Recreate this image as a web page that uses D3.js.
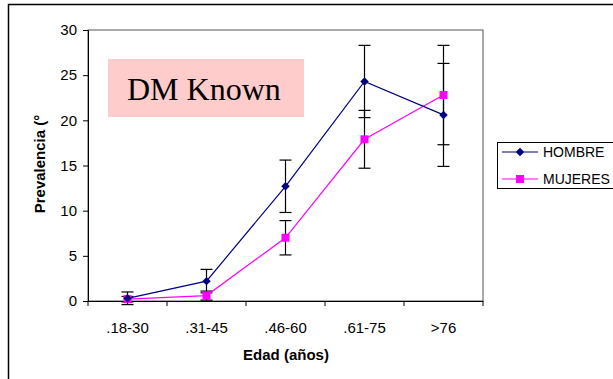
<!DOCTYPE html>
<html><head><meta charset="utf-8">
<script src="https://cdn.jsdelivr.net/npm/d3@7"></script>
<style>body{margin:0;background:#fff}svg{display:block}</style>
</head><body>
<svg id="c" width="613" height="379"></svg>
<script>
const categories = [".18-30", ".31-45", ".46-60", ".61-75", ">76"];
const hombre = [0.3, 2.2, 12.7, 24.3, 20.6];
const hombreErr = [0.7, 1.3, 2.9, 4.0, 5.7];
const mujeres = [0.2, 0.6, 7.0, 17.9, 22.8];
const mujeresErr = [0.3, 0.5, 1.9, 3.2, 5.5];
const yTicks = [0, 5, 10, 15, 20, 25, 30];
const seriesNames = ["HOMBRE", "MUJERES"];

const svg = d3.select("#c");
const font = "'Liberation Sans', Arial, sans-serif";
const L = 88, R = 483, T = 30, B = 301;

// outer border
svg.append("rect").attr("x", 8.5).attr("y", 4.5).attr("width", 640).attr("height", 400)
  .attr("fill", "none").attr("stroke", "#000").attr("stroke-width", 1.5);

const x = d3.scaleBand().domain(categories).range([L, R]);
const y = d3.scaleLinear().domain([0, 30]).range([B, T]);

// plot frame
svg.append("rect").attr("x", L).attr("y", T).attr("width", R - L).attr("height", B - T)
  .attr("fill", "none").attr("stroke", "#555").attr("stroke-width", 1);

// y axis
const ya = svg.append("g").attr("transform", `translate(${L},0)`)
  .call(d3.axisLeft(y).tickValues(yTicks).tickSize(5).tickPadding(6));
ya.select(".domain").attr("stroke", "#000");
ya.selectAll("text").attr("font-family", font).attr("font-size", 15).attr("fill", "#000");

// x axis
const xa = svg.append("g").attr("transform", `translate(0,${B})`)
  .call(d3.axisBottom(x).tickSize(0).tickPadding(21));
xa.select(".domain").attr("stroke", "#000");
xa.selectAll("text").attr("font-family", font).attr("font-size", 15).attr("fill", "#000");
// boundary ticks
const bounds = categories.map(c => x(c)).concat([R]);
xa.selectAll(".bt").data(bounds).enter().append("line")
  .attr("x1", d => d).attr("x2", d => d).attr("y1", 0).attr("y2", 5).attr("stroke", "#000");

// DM Known box
svg.append("rect").attr("x", 108).attr("y", 59).attr("width", 196).attr("height", 58).attr("fill", "#FFCCCC");
svg.append("text").attr("x", 127).attr("y", 100).attr("font-family", "'Liberation Serif', 'Times New Roman', serif")
  .attr("font-size", 32).attr("fill", "#000").text("DM Known");

const cx = c => x(c) + x.bandwidth() / 2;

function errBars(vals, errs) {
  const g = svg.append("g").attr("stroke", "#000").attr("stroke-width", 1.2);
  categories.forEach((c, i) => {
    const px = cx(c), lo = y(vals[i] - errs[i]), hi = y(vals[i] + errs[i]);
    g.append("line").attr("x1", px).attr("x2", px).attr("y1", lo).attr("y2", hi);
    g.append("line").attr("x1", px - 6).attr("x2", px + 6).attr("y1", lo).attr("y2", lo);
    g.append("line").attr("x1", px - 6).attr("x2", px + 6).attr("y1", hi).attr("y2", hi);
  });
}
errBars(hombre, hombreErr);
errBars(mujeres, mujeresErr);

const line = d3.line().x((d, i) => cx(categories[i])).y(d => y(d));
svg.append("path").datum(mujeres).attr("d", line).attr("fill", "none").attr("stroke", "#FF00FF").attr("stroke-width", 1.2);
svg.append("path").datum(hombre).attr("d", line).attr("fill", "none").attr("stroke", "#000080").attr("stroke-width", 1.2);

const square = d3.symbol().type(d3.symbolSquare).size(64);
const diamond = d3.symbol().type(d3.symbolSquare).size(36);
svg.append("g").selectAll("path").data(mujeres).enter().append("path")
  .attr("d", square).attr("fill", "#FF00FF")
  .attr("transform", (d, i) => `translate(${cx(categories[i])},${y(d)})`);
svg.append("g").selectAll("path").data(hombre).enter().append("path")
  .attr("d", diamond).attr("fill", "#000080")
  .attr("transform", (d, i) => `translate(${cx(categories[i])},${y(d)}) rotate(45)`);

// axis titles
svg.append("text").attr("transform", "translate(45,164) rotate(-90)").attr("text-anchor", "middle")
  .attr("font-family", font).attr("font-size", 15).attr("font-weight", "bold").text("Prevalencia (°");
svg.append("text").attr("x", 286).attr("y", 360).attr("text-anchor", "middle")
  .attr("font-family", font).attr("font-size", 15).attr("font-weight", "bold").text("Edad (años)");

// legend
svg.append("rect").attr("x", 497.5).attr("y", 142.5).attr("width", 130).attr("height", 46)
  .attr("fill", "#fff").attr("stroke", "#000").attr("stroke-width", 1);
const colors = ["#000080", "#FF00FF"];
seriesNames.forEach((n, i) => {
  const ly = 152 + i * 27;
  svg.append("line").attr("x1", 502).attr("x2", 538).attr("y1", ly).attr("y2", ly).attr("stroke", colors[i]).attr("stroke-width", 1.2);
  if (i === 0) svg.append("path").attr("d", diamond).attr("fill", colors[i])
    .attr("transform", `translate(520,${ly}) rotate(45)`);
  else svg.append("path").attr("d", square).attr("fill", colors[i]).attr("transform", `translate(520,${ly})`);
  svg.append("text").attr("x", 543).attr("y", ly + 5).attr("font-family", font).attr("font-size", 14).text(n);
});
</script>
</body></html>
